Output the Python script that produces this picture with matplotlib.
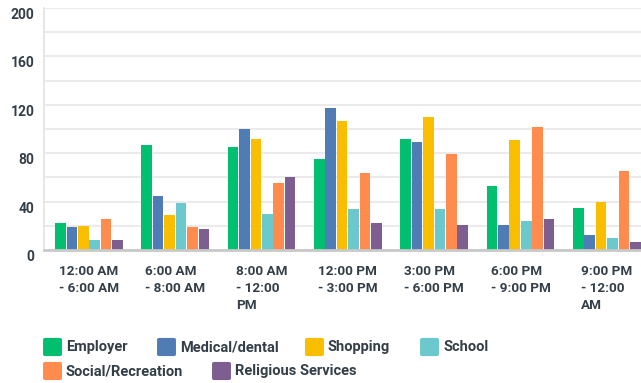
import matplotlib
matplotlib.use("Agg")
import matplotlib.pyplot as plt
import numpy as np
from matplotlib.patches import FancyBboxPatch
import matplotlib.transforms as mtransforms

plt.rcParams['font.family'] = ['Roboto', 'DejaVu Sans']

categories = ["12:00 AM\n- 6:00 AM", "6:00 AM\n- 8:00 AM", "8:00 AM\n- 12:00\nPM",
              "12:00 PM\n- 3:00 PM", "3:00 PM\n- 6:00 PM", "6:00 PM\n- 9:00 PM",
              "9:00 PM\n- 12:00\nAM"]
series_names = ["Employer", "Medical/dental", "Shopping", "School",
                "Social/Recreation", "Religious Services"]
employer = [22, 87, 85, 75, 92, 53, 35]
medical = [19, 45, 100, 117, 89, 21, 12]
shopping = [20, 29, 92, 107, 110, 91, 40]
school = [8.5, 39, 30, 34, 34, 24, 10]
social = [26, 19, 55, 64, 79, 102, 65]
religious = [8.5, 17, 60, 22, 21, 26, 7]
series_values = [employer, medical, shopping, school, social, religious]
colors = ["#00BF6F", "#507CB6", "#F9BE00", "#6BC8CD", "#FF8B4F", "#7D5E90"]
yticks = [0, 40, 80, 120, 160, 200]

W, H = 641, 383
fig = plt.figure(figsize=(W / 100, H / 100), dpi=100)
ax = fig.add_axes([44 / W, 1 - 250 / H, (W - 44) / W, (250 - 8) / H])

x = np.arange(len(categories))
pitch = 0.1325
width = 0.123
for i, (vals, c) in enumerate(zip(series_values, colors)):
    ax.bar(x + (i - 2.5) * pitch, vals, width=width, color=c, zorder=3)

ax.set_xlim(-0.521, 6.396)
ax.set_ylim(0, 200)
ax.set_yticks(yticks)
ax.set_yticks(np.arange(0, 201, 20), minor=True)
ax.grid(axis='y', which='both', color='#ebebeb', linewidth=1.5, zorder=0)
ax.tick_params(axis='y', which='both', length=0, pad=7, labelsize=10,
               labelcolor='#333e48')
ax.tick_params(axis='x', length=0, pad=11, labelsize=9.7, labelcolor='#333e48')
ax.set_yticklabels([str(v) for v in yticks], fontweight='semibold')
ax.set_xticks(x)
ax.set_xticklabels(categories, multialignment='left', fontweight='semibold',
                   linespacing=1.38)
offset = mtransforms.ScaledTranslation(0, -4 / 72, fig.dpi_scale_trans)
for lab in ax.get_yticklabels():
    lab.set_transform(lab.get_transform() + offset)

for s in ['top', 'right']:
    ax.spines[s].set_visible(False)
ax.spines['left'].set_color('#e3e3e3')
ax.spines['left'].set_linewidth(1.2)
ax.spines['bottom'].set_color('#c9c9c9')
ax.spines['bottom'].set_linewidth(2)
ax.spines['bottom'].set_zorder(4)

# legend (flow layout)
legend_pos = [(43, 347), (157, 347), (305, 347), (420, 347), (43, 371), (212, 371)]
for name, c, (px, py) in zip(series_names, colors, legend_pos):
    box = FancyBboxPatch(((px + 1) / W, 1 - (py + 8.5) / H), 17 / W, 17 / H,
                         boxstyle="round,pad=0.0015,rounding_size=0.004",
                         transform=fig.transFigure, facecolor=c, edgecolor='none')
    fig.patches.append(box)
    fig.text((px + 23) / W, 1 - py / H, name, ha='left', va='center',
             fontsize=10.5, color='#333e48', fontweight='semibold')

fig.savefig("out.png", dpi=100)
